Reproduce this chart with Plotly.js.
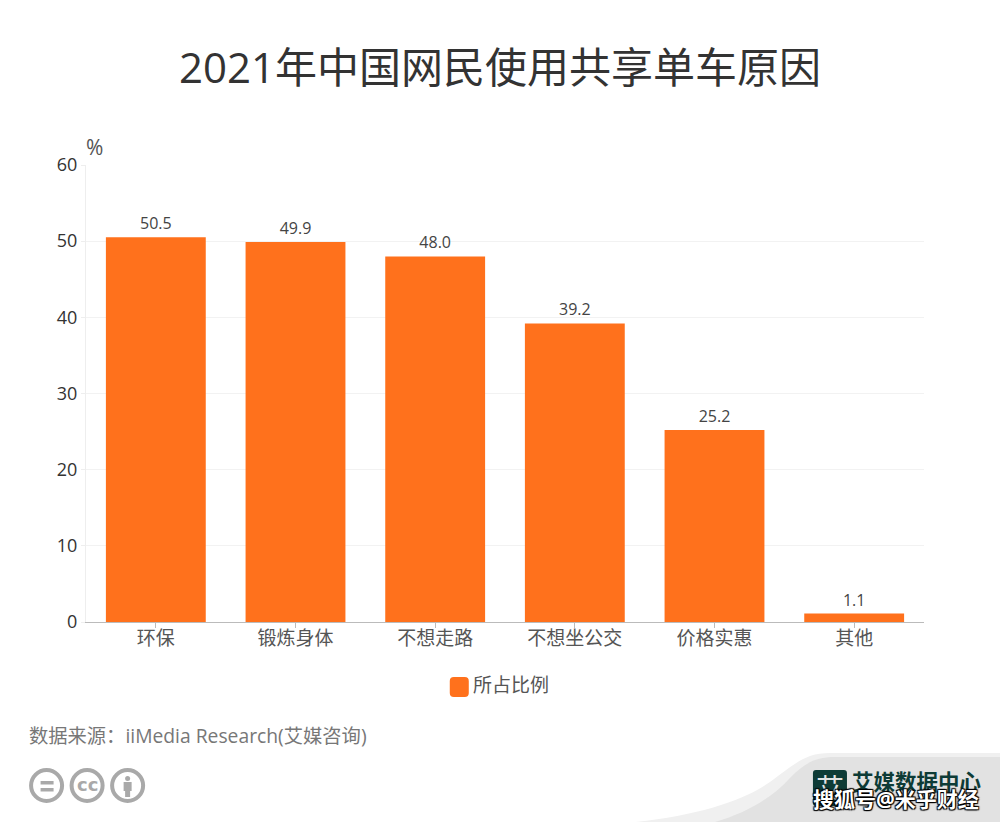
<!DOCTYPE html>
<html>
<head>
<meta charset="utf-8">
<script src="https://cdn.plot.ly/plotly-3.0.1.min.js"></script>
<style>html, body { margin: 0; padding: 0; background: #fff; }</style>
</head>
<body>
<div id="chart" style="width:1000px;height:822px;"></div>
<script>
const categories = ['环保', '锻炼身体', '不想走路', '不想坐公交', '价格实惠', '其他'];
const values = [50.5, 49.9, 48.0, 39.2, 25.2, 1.1];
const valueLabels = ['50.5', '49.9', '48.0', '39.2', '25.2', '1.1'];
const yTicks = [0, 10, 20, 30, 40, 50, 60];
const seriesName = '所占比例';

const FONT = '"Open Sans", "Noto Sans CJK SC", sans-serif';
const ORANGE = '#ff711c';
const ICON_GREY = '#a9a9a9';
const LOGO_GREEN = '#0d3b36';

// plot area in page pixels, footer decoration is placed from these
const plotLeft = 86.4, plotRight = 924, plotTop = 165, plotBottom = 622;
const px = x => (x - plotLeft) / (plotRight - plotLeft);
const py = y => (plotBottom - y) / (plotBottom - plotTop);

function pagePath(points) {
    // points are [cmd, x, y, x, y...] in page pixels
    return points.map(p => {
        let s = p[0];
        for (let i = 1; i < p.length; i += 2) {
            s += ' ' + px(p[i]).toFixed(5) + ',' + py(p[i + 1]).toFixed(5);
        }
        return s;
    }).join(' ');
}

function roundRect(x0, y0, x1, y1, r) {
    return pagePath([
        ['M', x0 + r, y0], ['L', x1 - r, y0], ['Q', x1, y0, x1, y0 + r],
        ['L', x1, y1 - r], ['Q', x1, y1, x1 - r, y1], ['L', x0 + r, y1],
        ['Q', x0, y1, x0, y1 - r], ['L', x0, y0 + r], ['Q', x0, y0, x0 + r, y0]
    ]) + ' Z';
}

function ring(cx, cy, r) {
    return {
        type: 'circle', xref: 'paper', yref: 'paper',
        x0: px(cx - r), x1: px(cx + r), y0: py(cy + r), y1: py(cy - r),
        line: { color: ICON_GREY, width: 4 }, fillcolor: '#fff'
    };
}

function filled(path, color) {
    return { type: 'path', xref: 'paper', yref: 'paper', path: path, fillcolor: color, line: { width: 0 } };
}

function label(text, x, y, size, color, anchor, extra) {
    return Object.assign({
        text: text, xref: 'paper', yref: 'paper', x: px(x), y: py(y),
        xanchor: anchor || 'left', yanchor: 'middle', showarrow: false,
        font: { family: FONT, size: size, color: color }
    }, extra || {});
}

const shapes = [
    // grey corner swoosh
    filled(pagePath([['M', 636, 822], ['C', 700, 815, 745, 800, 770, 782], ['C', 795, 764, 805, 753, 830, 753],
        ['L', 1000, 753], ['L', 1000, 822]]) + ' Z', '#f0f0f0'),
    filled(pagePath([['M', 715, 822], ['C', 750, 812, 775, 795, 790, 778], ['C', 805, 763, 815, 757, 835, 757],
        ['L', 1000, 757], ['L', 1000, 822]]) + ' Z', '#e2e2e2'),
    // logo block
    filled(roundRect(813, 770, 847, 806, 3), LOGO_GREEN),
    // legend swatch
    filled(roundRect(450, 677, 469, 697, 4), ORANGE),
    // licence icons
    ring(47, 785.5, 15.5), ring(87.5, 785.5, 15.5), ring(128, 785.5, 15.5),
    filled(pagePath([['M', 41, 781], ['L', 54, 781], ['L', 54, 784.5], ['L', 41, 784.5]]) + ' Z', ICON_GREY),
    filled(pagePath([['M', 41, 788], ['L', 54, 788], ['L', 54, 791.5], ['L', 41, 791.5]]) + ' Z', ICON_GREY),
    { type: 'circle', xref: 'paper', yref: 'paper', x0: px(125.5), x1: px(130.5), y0: py(781), y1: py(776), fillcolor: ICON_GREY, line: { width: 0 } },
    filled(pagePath([['M', 124, 782], ['L', 132, 782], ['L', 132, 791], ['L', 130.5, 791], ['L', 130.5, 797], ['L', 125.5, 797], ['L', 125.5, 791], ['L', 124, 791]]) + ' Z', ICON_GREY)
];

const annotations = [
    label('%', 84, 147.5, 21, '#555'),
    label(seriesName, 471, 685, 19, '#555'),
    label('数据来源：iiMedia Research(艾媒咨询)', 27, 735.5, 19.3, '#777'),
    label('cc', 87.5, 784, 18, ICON_GREY, 'center', { font: { family: 'DejaVu Sans', size: 18, color: ICON_GREY, weight: 700 } }),
    label('艾', 830, 788, 28, '#e2e2e2', 'center'),
    label('艾媒数据中心', 850, 781, 21.5, LOGO_GREEN, 'left', { font: { family: FONT, size: 21.5, color: LOGO_GREEN, weight: 700 } }),
    // site watermark sits on top of the logo
    label('搜狐号@米乎财经', 811, 799, 21, '#fff', 'left', {
        font: { family: FONT, size: 21, color: '#fff', weight: 700, shadow: '1px 1px 1px #000, -1px -1px 1px #000, 1px -1px 1px #000, -1px 1px 1px #000' }
    })
];

const trace = {
    type: 'bar',
    x: categories,
    y: values,
    name: seriesName,
    text: valueLabels,
    textposition: 'outside',
    cliponaxis: false,
    textfont: { family: FONT, size: 16, color: '#444' },
    marker: { color: ORANGE },
    hoverinfo: 'x+y'
};

const layout = {
    width: 1000,
    height: 822,
    paper_bgcolor: '#fff',
    plot_bgcolor: '#fff',
    font: { family: FONT },
    showlegend: false,
    bargap: 0.285,
    margin: { l: plotLeft, r: 1000 - plotRight, t: plotTop, b: 822 - plotBottom, pad: 0 },
    title: {
        text: '2021年中国网民使用共享单车原因',
        font: { family: FONT, size: 42, color: '#333' },
        x: 0.5, xanchor: 'center', xref: 'container',
        y: 1 - 68 / 822, yanchor: 'middle', yref: 'container'
    },
    xaxis: {
        type: 'category',
        categoryarray: categories,
        tickfont: { family: FONT, size: 19, color: '#555' },
        ticks: 'outside', ticklen: 5, tickcolor: '#bbb', tickwidth: 1,
        ticklabelstandoff: -6,
        showline: true, linecolor: '#bbb', linewidth: 1,
        showgrid: false, zeroline: false
    },
    yaxis: {
        range: [0, 60],
        tickvals: yTicks,
        tickfont: { family: FONT, size: 18, color: '#333' },
        ticks: 'outside', ticklen: 4, tickcolor: '#eee', tickwidth: 1,
        showline: true, linecolor: '#eee', linewidth: 1,
        showgrid: true, gridcolor: '#f2f2f2', gridwidth: 1,
        zeroline: false
    },
    shapes: shapes,
    annotations: annotations
};

Plotly.newPlot('chart', [trace], layout, { displayModeBar: false });
</script>
</body>
</html>
